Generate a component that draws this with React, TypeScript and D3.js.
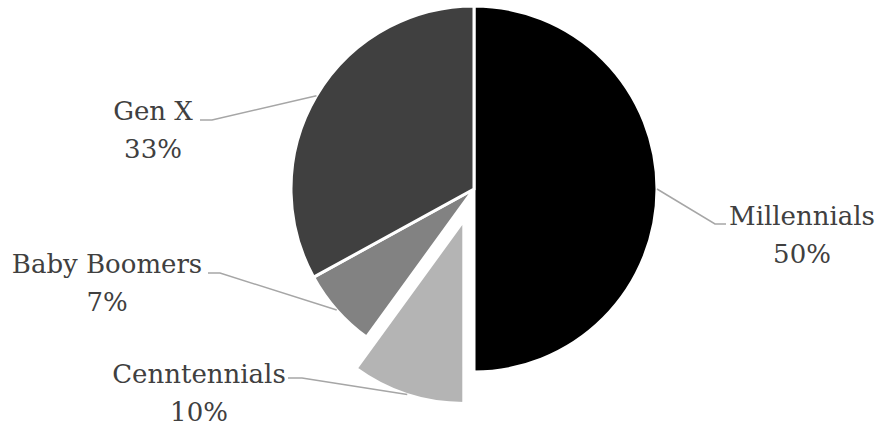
import React from "react";
import * as d3 from "d3";

const categories = ["Millennials", "Cenntennials", "Baby Boomers", "Gen X"];
const values = [50, 10, 7, 33];
const percentLabels = ["50%", "10%", "7%", "33%"];
const sliceColors = ["#000000", "#b4b4b4", "#828282", "#404040"];
const exploded = [false, true, false, false];

// label layout: text centre x, first baseline y, elbow x, line end x, line y
const labelLayout = [
  { tx: 802, ty: 225, ex: 715, lx: 726, ly: 224 },
  { tx: 199, ty: 383, ex: 302, lx: 288, ly: 378 },
  { tx: 107, ty: 273, ex: 220, lx: 208, ly: 273 },
  { tx: 153, ty: 120, ex: 212, lx: 200, ly: 120 },
];

const W = 880;
const H = 428;
const cx = 474;
const cy = 189;
const R = 183;
const explodeDist = 33;

export default function App() {
  const pie = d3.pie<number>().sort(null).value((d) => d);
  const arcs = pie(values);
  const arc = d3.arc<d3.PieArcDatum<number>>().innerRadius(0).outerRadius(R);

  return (
    <svg
      width={W}
      height={H}
      style={{ position: "absolute", left: 0, top: 0, background: "#fff" }}
    >
      {arcs.map((a, i) => {
        const mid = (a.startAngle + a.endAngle) / 2;
        const off = exploded[i] ? explodeDist : 0;
        const ox = cx + off * Math.sin(mid);
        const oy = cy - off * Math.cos(mid);
        return (
          <path
            key={categories[i]}
            d={arc(a) || ""}
            transform={`translate(${ox},${oy})`}
            fill={sliceColors[i]}
            stroke="#ffffff"
            strokeWidth={3}
            strokeLinejoin="miter"
          />
        );
      })}
      {arcs.map((a, i) => {
        const mid = (a.startAngle + a.endAngle) / 2;
        const off = exploded[i] ? explodeDist : 0;
        const ox = cx + (off + R) * Math.sin(mid);
        const oy = cy - (off + R) * Math.cos(mid);
        const L = labelLayout[i];
        const pts: [number, number][] = [
          [ox, oy],
          [L.ex, L.ly],
          [L.lx, L.ly],
        ];
        return (
          <path
            key={"l" + i}
            d={d3.line()(pts) || ""}
            fill="none"
            stroke="#a6a6a6"
            strokeWidth={1.5}
          />
        );
      })}
      {arcs.map((a, i) => {
        const L = labelLayout[i];
        return (
          <text
            key={"t" + i}
            x={L.tx}
            y={L.ty}
            textAnchor="middle"
            style={{ fontFamily: "'DejaVu Serif', serif", fontSize: "26px" }}
            fill="#404040"
          >
            <tspan x={L.tx} y={L.ty}>
              {categories[i]}
            </tspan>
            <tspan x={L.tx} y={L.ty + 38}>
              {percentLabels[i]}
            </tspan>
          </text>
        );
      })}
    </svg>
  );
}
